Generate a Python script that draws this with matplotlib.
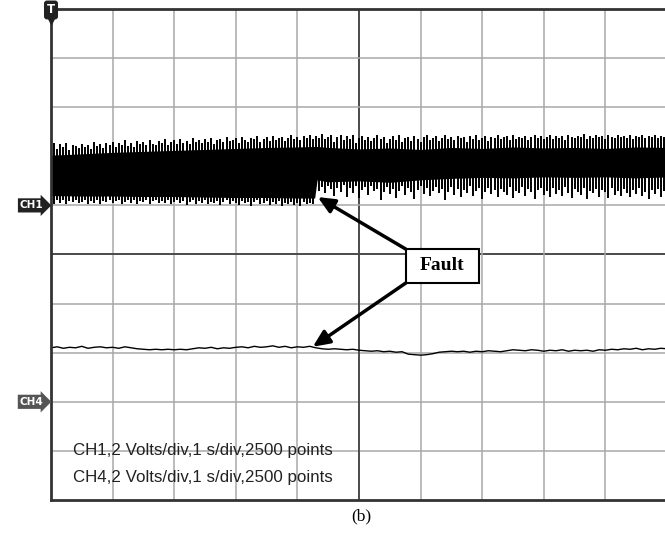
import numpy as np
import matplotlib
matplotlib.use("Agg")
from matplotlib import pyplot as plt
from matplotlib.patches import Rectangle

# time axis: 1 s/div, 10 divisions; CH1 envelope sampled every 0.05 s
t = np.linspace(0, 10, 201)

# CH1 upper spike envelope (divisions)
ch1_hi = [
    7.22, 7.28, 7.15, 7.25, 7.19, 7.27, 7.12, 7.24, 7.21, 7.17,
    7.26, 7.18, 7.23, 7.14, 7.29, 7.20, 7.25, 7.16, 7.28, 7.22,
    7.30, 7.19, 7.27, 7.24, 7.33, 7.21, 7.28, 7.18, 7.31, 7.25,
    7.29, 7.23, 7.34, 7.26, 7.22, 7.32, 7.27, 7.35, 7.24, 7.30,
    7.33, 7.26, 7.36, 7.28, 7.31, 7.25, 7.37, 7.29, 7.34, 7.27,
    7.35, 7.30, 7.38, 7.26, 7.33, 7.36, 7.29, 7.39, 7.31, 7.34,
    7.37, 7.28, 7.40, 7.33, 7.30, 7.38, 7.35, 7.41, 7.29, 7.36,
    7.39, 7.32, 7.42, 7.34, 7.37, 7.40, 7.31, 7.38, 7.43, 7.35,
    7.40, 7.33, 7.41, 7.37, 7.44, 7.36,
    7.42, 7.38, 7.45, 7.35, 7.40, 7.44, 7.30, 7.39, 7.43, 7.33,
    7.41, 7.36, 7.44, 7.28, 7.38, 7.42, 7.34, 7.40, 7.31, 7.37,
    7.43, 7.35, 7.39, 7.27, 7.36, 7.41, 7.33, 7.44, 7.30, 7.38,
    7.40, 7.32, 7.42, 7.36, 7.29, 7.39, 7.43, 7.34, 7.37, 7.41,
    7.31, 7.38, 7.44, 7.35, 7.40, 7.33, 7.42, 7.37, 7.39, 7.30,
    7.41, 7.36, 7.43, 7.34, 7.38, 7.42, 7.32, 7.40, 7.37, 7.44,
    7.35, 7.39, 7.41, 7.33, 7.43, 7.36, 7.40, 7.38, 7.42, 7.34,
    7.39, 7.44, 7.37, 7.41, 7.35, 7.40, 7.43, 7.36, 7.42, 7.38,
    7.41, 7.34, 7.43, 7.39, 7.37, 7.42, 7.40, 7.45, 7.36, 7.41,
    7.38, 7.43, 7.39, 7.42, 7.35, 7.44, 7.40, 7.37, 7.43, 7.39,
    7.41, 7.38, 7.44, 7.36, 7.42, 7.40, 7.43, 7.37, 7.41, 7.39,
    7.44, 7.38, 7.42, 7.40, 7.43,
]

# CH1 lower spike envelope (divisions)
ch1_lo = [
    6.08, 6.03, 6.10, 6.05, 6.12, 6.02, 6.09, 6.06, 6.11, 6.04,
    6.07, 6.12, 6.03, 6.09, 6.05, 6.11, 6.02, 6.08, 6.06, 6.10,
    6.04, 6.09, 6.12, 6.03, 6.07, 6.10, 6.05, 6.11, 6.02, 6.08,
    6.06, 6.10, 6.03, 6.09, 6.12, 6.04, 6.08, 6.05, 6.11, 6.02,
    6.07, 6.10, 6.04, 6.09, 6.01, 6.06, 6.11, 6.03, 6.08, 6.05,
    6.10, 6.02, 6.07, 6.04, 6.09, 6.00, 6.06, 6.11, 6.03, 6.08,
    6.05, 6.01, 6.09, 6.04, 6.07, 5.99, 6.06, 6.10, 6.02, 6.05,
    6.08, 6.00, 6.06, 6.03, 6.09, 5.98, 6.05, 6.02, 6.07, 6.01,
    6.04, 5.99, 6.06, 6.02, 6.05, 6.03,
    6.42, 6.30, 6.38, 6.25, 6.40, 6.33, 6.20, 6.36, 6.28, 6.41,
    6.18, 6.35, 6.26, 6.39, 6.15, 6.31, 6.37, 6.22, 6.40, 6.29,
    6.34, 6.12, 6.27, 6.38, 6.24, 6.33, 6.16, 6.30, 6.39, 6.21,
    6.36, 6.27, 6.14, 6.32, 6.40, 6.23, 6.35, 6.19, 6.29, 6.37,
    6.25, 6.33, 6.11, 6.28, 6.38, 6.22, 6.34, 6.17, 6.31, 6.26,
    6.39, 6.20, 6.30, 6.35, 6.13, 6.27, 6.36, 6.24, 6.32, 6.18,
    6.34, 6.28, 6.21, 6.37, 6.15, 6.30, 6.25, 6.38, 6.19, 6.33,
    6.27, 6.14, 6.31, 6.36, 6.22, 6.29, 6.17, 6.35, 6.24, 6.32,
    6.20, 6.37, 6.26, 6.16, 6.33, 6.28, 6.21, 6.36, 6.13, 6.30,
    6.25, 6.34, 6.18, 6.31, 6.27, 6.15, 6.35, 6.22, 6.29, 6.19,
    6.33, 6.26, 6.17, 6.32, 6.23, 6.36, 6.20, 6.28, 6.14, 6.31,
    6.24, 6.34, 6.18, 6.29, 6.22,
]

# solid core of the CH1 band
core_t = [0, 0.5, 1, 1.5, 2, 2.5, 3, 3.5, 4, 4.28, 4.32, 4.5, 5, 5.5, 6,
          6.5, 7, 7.5, 8, 8.5, 9, 9.5, 10]
core_hi = [7.02, 7.05, 7.08, 7.10, 7.12, 7.14, 7.16, 7.18, 7.19, 7.20, 7.20,
           7.18, 7.15, 7.17, 7.14, 7.18, 7.16, 7.19, 7.17, 7.18, 7.16, 7.19, 7.18]
core_lo = [6.20, 6.19, 6.19, 6.18, 6.18, 6.17, 6.16, 6.16, 6.15, 6.15, 6.52,
           6.48, 6.50, 6.47, 6.52, 6.55, 6.57, 6.56, 6.58, 6.57, 6.58, 6.56, 6.58]

# CH4 trace, every 0.1 s
t4 = np.linspace(0, 10, 101)
ch4 = [
    3.10, 3.12, 3.09, 3.11, 3.10, 3.13, 3.09, 3.11, 3.12, 3.10,
    3.11, 3.09, 3.12, 3.10, 3.08, 3.07, 3.06, 3.07, 3.06, 3.07,
    3.06, 3.07, 3.06, 3.08, 3.10, 3.09, 3.11, 3.08, 3.10, 3.09,
    3.11, 3.12, 3.10, 3.13, 3.11, 3.12, 3.14, 3.11, 3.13, 3.10,
    3.12, 3.11, 3.13, 3.10, 3.08, 3.07, 3.08, 3.07, 3.06, 3.07,
    3.05, 3.04, 3.03, 3.04, 3.02, 3.03, 3.01, 3.02, 2.97, 2.96,
    2.95, 2.96, 2.98, 3.01, 3.02, 3.03, 3.02, 3.03, 3.01, 3.03,
    3.02, 3.04, 3.03, 3.02, 3.04, 3.06, 3.05, 3.04, 3.06, 3.05,
    3.03, 3.05, 3.04, 3.06, 3.03, 3.05, 3.04, 3.05, 3.03, 3.06,
    3.05, 3.07, 3.06, 3.08, 3.07, 3.09, 3.06, 3.08, 3.07, 3.09,
    3.08,
]

ch1_level = 6.0
ch4_level = 2.0
fault_t = 4.3

info = ["CH1,2 Volts/div,1 s/div,2500 points",
        "CH4,2 Volts/div,1 s/div,2500 points"]

fig = plt.figure(figsize=(6.65, 5.35), dpi=100)
ax = fig.add_axes([0.0767, 0.0654, 0.9263, 0.9178])
ax.set_xlim(0, 10)
ax.set_ylim(0, 10)
ax.set_xticks([])
ax.set_yticks([])

for i in range(1, 10):
    c = "#4a4a4a" if i == 5 else "#a8a8a8"
    lw = 1.4 if i == 5 else 1.1
    ax.axvline(i, color=c, lw=lw, zorder=0)
    ax.axhline(i, color=c, lw=lw, zorder=0)

for s in ["left", "top", "bottom"]:
    ax.spines[s].set_color("#333333")
    ax.spines[s].set_linewidth(2)
ax.spines["right"].set_visible(False)

# CH1 band
ax.fill_between(core_t, core_lo, core_hi, color="black", lw=0, zorder=2)
ax.vlines(t, ch1_lo, ch1_hi, color="black", lw=1.4, zorder=2)

# CH4 trace
ax.plot(t4, ch4, color="black", lw=1.0, zorder=2)

# channel markers
ax.text(0, 9.98, "T", color="white", fontsize=8.5, fontweight="bold",
        ha="center", va="center", clip_on=False, zorder=5,
        bbox=dict(boxstyle="round,pad=0.25", fc="#222222", ec="none"))
ax.plot([0], [9.77], marker="v", color="#222222", ms=6, clip_on=False, zorder=5)
ax.text(-0.12, ch1_level, "CH1", color="white", fontsize=7.5, fontweight="bold",
        ha="right", va="center", clip_on=False, zorder=5,
        bbox=dict(boxstyle="rarrow,pad=0.2", fc="#222222", ec="none"))
ax.text(-0.12, ch4_level, "CH4", color="white", fontsize=7.5, fontweight="bold",
        ha="right", va="center", clip_on=False, zorder=5,
        bbox=dict(boxstyle="rarrow,pad=0.2", fc="#555555", ec="none"))

# setup text
ax.text(0.36, 1.0, info[0], fontsize=12.2, family="Liberation Sans",
        color="#222222", va="center", zorder=3)
ax.text(0.36, 0.45, info[1], fontsize=12.2, family="Liberation Sans",
        color="#222222", va="center", zorder=3)

# Fault box and arrows
ax.add_patch(Rectangle((5.76, 4.42), 1.19, 0.69, fc="white", ec="black",
                       lw=1.5, zorder=4))
ax.text(6.35, 4.77, "Fault", fontsize=14, fontweight="bold",
        family="Liberation Serif", ha="center", va="center", zorder=5)
arrow = dict(arrowstyle="-|>,head_length=1.0,head_width=0.45", color="black",
             lw=2.5, shrinkA=0, shrinkB=0)
ax.annotate("", xy=(fault_t + 0.03, 6.17), xytext=(5.76, 5.11),
            arrowprops=arrow, zorder=4)
ax.annotate("", xy=(fault_t - 0.05, 3.12), xytext=(5.76, 4.42),
            arrowprops=arrow, zorder=4)

fig.text(0.544, 0.035, "(b)", fontsize=12.5, family="Liberation Serif",
         ha="center", va="center")

fig.savefig("out.png", dpi=100)
